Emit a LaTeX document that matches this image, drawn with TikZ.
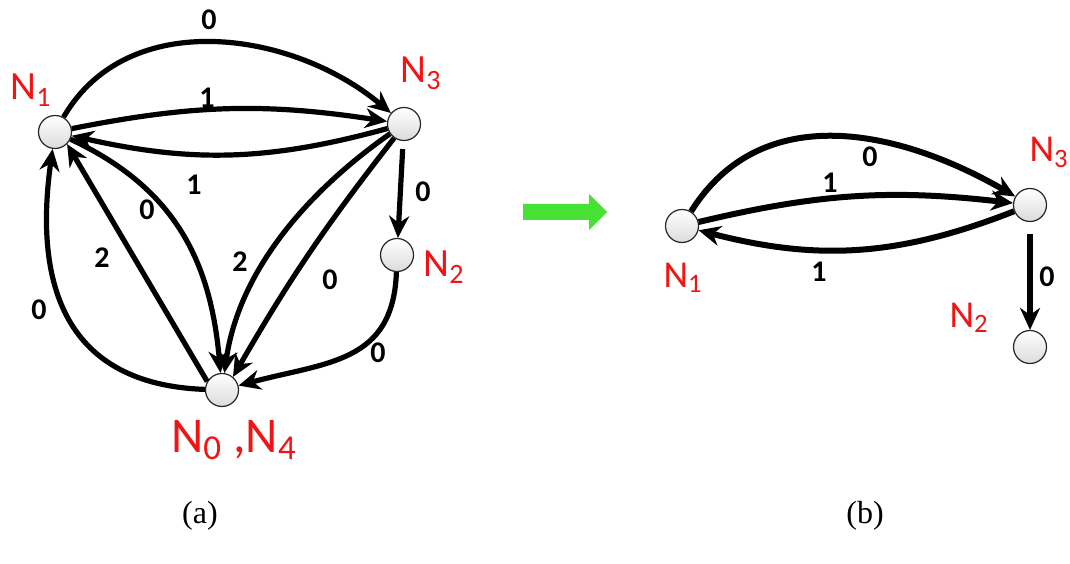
\documentclass[tikz,border=0pt]{standalone}
\usepackage{fontspec}
\setmainfont{Liberation Serif}
\newfontfamily\calfont{Carlito}
\usetikzlibrary{arrows.meta,positioning}
\definecolor{ngreen}{RGB}{70,225,50}
\definecolor{nred}{RGB}{240,20,20}
\newcommand{\nname}[1]{N\textsubscript{#1}}
\tikzset{
  vtx/.style={circle,draw=black!85,line width=0.6pt,minimum size=16.5pt,inner sep=0pt,
    top color=white,bottom color=black!14},
  edge/.style={-{Stealth[length=11pt,width=10pt]},line width=2.6pt},
  bedge/.style={edge,line width=3pt},
  wt/.style={inner sep=0pt,font=\calfont\bfseries\fontsize{15}{15}\selectfont},
  nlab/.style={text=nred,anchor=base,inner sep=0pt,font=\calfont\fontsize{20}{20}\selectfont},
  caplab/.style={inner sep=0pt,font=\fontsize{16}{16}\selectfont}
}

\begin{document}
\begin{tikzpicture}[x=0.5pt,y=0.5pt]
\useasboundingbox (0,0) rectangle (1070,563);

% (a) graph
\node[vtx] (a1) at (55,431) {};
\node[vtx] (a3) at (404,439) {};
\node[vtx] (a2) at (397,308) {};
\node[vtx] (a0) at (222,173) {};

\node[nlab] (la1) at (31,463) {\nname{1}};
\node[nlab] (la3) at (421,480) {\nname{3}};
\node[nlab] (la2) at (444,286) {\nname{2}};
\node[nlab,font=\calfont\fontsize{25}{25}\selectfont] (la0) at (234,111) {\nname{0} ,\nname{4}};

\draw[edge] (a1) to[out=60,in=140] (a3);
\draw[edge] (a1) to[bend left=10] (a3);
\draw[edge] (a3) to[bend left=14] (a1);
\draw[edge,shorten <=4pt] (a3) -- (a2);
\draw[edge] (a2) to[out=-92,in=15,looseness=1.2] (a0);
\draw[edge] (a0) to[out=178,in=-98,looseness=1.25] (a1);
\draw[edge] (a0.150) -- (a1.-45);
\draw[edge] (a1) to[out=-25,in=95,looseness=1.05] (a0);
\draw[edge] (a3) to[out=215,in=82,looseness=0.9] (a0);
\draw[edge] (a3.235) to[bend right=4] (a0.50);

% weights (a)
\node[wt] (wa1) at (209,543) {0};
\node[wt] (wa2) at (207,465) {1};
\node[wt] (wa3) at (194,378) {1};
\node[wt] (wa4) at (423,371) {0};
\node[wt] (wa5) at (378,210) {0};
\node[wt] (wa6) at (39,253) {0};
\node[wt] (wa7) at (102,305) {2};
\node[wt] (wa8) at (147,353) {0};
\node[wt] (wa9) at (240,301) {2};
\node[wt] (wa10) at (330,283) {0};

% reduction arrow
\fill[ngreen] (523,343) -- (589,343) -- (589,333) -- (607,351) -- (589,369)
  -- (589,359) -- (523,359) -- cycle;

% (b) graph
\node[vtx] (b1) at (682,337) {};
\node[vtx] (b3) at (1030,358) {};
\node[vtx] (b2) at (1030,216) {};

\node[nlab,font=\calfont\fontsize{19}{19}\selectfont] (lb1) at (683,276) {\nname{1}};
\node[nlab,font=\calfont\fontsize{19}{19}\selectfont] (lb3) at (1049,401) {\nname{3}};
\node[nlab,font=\calfont\fontsize{19}{19}\selectfont] (lb2) at (969,236) {\nname{2}};

\draw[bedge] (b1) to[out=58,in=150,looseness=1.05] (b3);
\draw[bedge] (b1) to[bend left=10] (b3);
\draw[bedge] (b3) to[bend left=18] (b1);
\draw[bedge,shorten <=6pt] (b3) -- (b2);

% weights (b)
\node[wt] (wb1) at (870,406) {0};
\node[wt] (wb2) at (830,380) {1};
\node[wt] (wb3) at (819,291) {1};
\node[wt] (wb4) at (1047,286) {0};

% captions
\node[caplab] (capa) at (200,47) {(a)};
\node[caplab] (capb) at (865,47) {(b)};
\end{tikzpicture}
\end{document}
